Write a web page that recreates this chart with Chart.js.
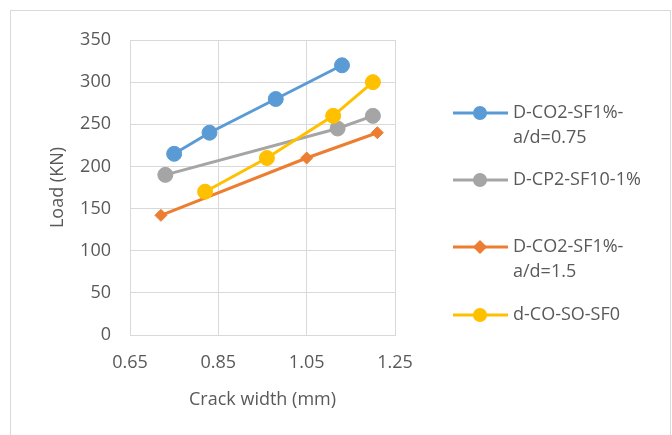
<!DOCTYPE html>
<html>
<head>
<meta charset="utf-8">
<script src="https://cdn.jsdelivr.net/npm/chart.js@4/dist/chart.umd.min.js"></script>
<style>
  html, body { margin: 0; padding: 0; background: #fff; }
  #wrap { width: 672px; height: 435px; position: relative; }
</style>
</head>
<body>
<div id="wrap"><canvas id="crackChart" width="672" height="435"></canvas></div>
<script>
// Series data
const seriesNames = ['D-CO2-SF1%-a/d=0.75', 'D-CP2-SF10-1%', 'D-CO2-SF1%-a/d=1.5', 'd-CO-SO-SF0'];
const legendLines = [['D-CO2-SF1%-', 'a/d=0.75'], ['D-CP2-SF10-1%'], ['D-CO2-SF1%-', 'a/d=1.5'], ['d-CO-SO-SF0']];

const blueX = [0.75, 0.83, 0.98, 1.13];
const blueY = [215, 240, 280, 320];
const greyX = [0.73, 1.12, 1.20];
const greyY = [190, 245, 260];
const orangeX = [0.72, 1.05, 1.21];
const orangeY = [142, 210, 240];
const yellowX = [0.82, 0.96, 1.11, 1.20];
const yellowY = [170, 210, 260, 300];

const xTicks = [0.65, 0.85, 1.05, 1.25];
const yTicks = [0, 50, 100, 150, 200, 250, 300, 350];

const FONT = '"Open Sans", "Noto Sans", sans-serif';
const TEXT = '#595959';
const GRID = '#d9d9d9';

function pts(xs, ys) {
    return xs.map((x, i) => ({ x: x, y: ys[i] }));
}

function makeSet(name, xs, ys, color, shape, radius, order) {
    return {
        label: name,
        data: pts(xs, ys),
        showLine: true,
        borderColor: color,
        backgroundColor: color,
        borderWidth: 3,
        pointStyle: shape,
        pointRadius: radius,
        pointBorderWidth: 1,
        pointBorderColor: color,
        pointBackgroundColor: color,
        order: order
    };
}

// Legend drawn by hand so labels can wrap like the original
const legendRows = [113, 180, 247, 315];
const sideLegend = {
    id: 'sideLegend',
    beforeDraw(chart) {
        const ctx = chart.ctx;
        ctx.save();
        ctx.strokeStyle = GRID;
        ctx.lineWidth = 1;
        ctx.strokeRect(10.5, 10.5, 660, 440);
        ctx.restore();
    },
    afterDraw(chart) {
        const ctx = chart.ctx;
        ctx.save();
        chart.data.datasets.forEach((ds, i) => {
            const y = legendRows[i];
            ctx.strokeStyle = ds.borderColor;
            ctx.lineWidth = 3;
            ctx.beginPath();
            ctx.moveTo(453, y);
            ctx.lineTo(508, y);
            ctx.stroke();
            ctx.fillStyle = ds.borderColor;
            Chart.helpers.drawPoint(ctx, {
                pointStyle: ds.pointStyle,
                radius: ds.pointStyle === 'circle' ? 5.5 : 5,
                borderWidth: 1,
                rotation: 0
            }, 480, y);
            ctx.fill();
            ctx.fillStyle = TEXT;
            ctx.font = '18px ' + FONT;
            ctx.textBaseline = 'middle';
            ctx.textAlign = 'left';
            legendLines[i].forEach((line, k) => {
                ctx.fillText(line, 513, y + k * 25);
            });
        });
        ctx.restore();
    }
};

const ctx = document.getElementById('crackChart').getContext('2d');
const crackChart = new Chart(ctx, {
    type: 'scatter',
    data: {
        datasets: [
            makeSet(seriesNames[0], blueX, blueY, '#5b9bd5', 'circle', 7.5, 3),
            makeSet(seriesNames[1], greyX, greyY, '#a5a5a5', 'circle', 7.5, 2),
            makeSet(seriesNames[2], orangeX, orangeY, '#ed7d31', 'rectRot', 6, 1),
            makeSet(seriesNames[3], yellowX, yellowY, '#ffc000', 'circle', 7.5, 0)
        ]
    },
    options: {
        responsive: false,
        animation: false,
        layout: {
            padding: { left: 38, right: 277, top: 40, bottom: 22 }
        },
        plugins: {
            legend: { display: false },
            tooltip: { enabled: false }
        },
        scales: {
            x: {
                type: 'linear',
                min: 0.65,
                max: 1.25,
                afterBuildTicks: function(scale) {
                    scale.ticks = xTicks.map(v => ({ value: v }));
                },
                afterFit: function(scale) {
                    scale.height = 78;
                },
                grid: { color: GRID, drawTicks: false },
                border: { color: GRID },
                ticks: {
                    color: TEXT,
                    padding: 17,
                    font: { family: FONT, size: 18 },
                    maxRotation: 0,
                    callback: function(value) {
                        return value.toFixed(2);
                    }
                },
                title: {
                    display: true,
                    text: 'Crack width (mm)',
                    color: TEXT,
                    font: { family: FONT, size: 18 },
                    padding: { top: 0, bottom: 2 }
                }
            },
            y: {
                type: 'linear',
                min: 0,
                max: 350,
                afterBuildTicks: function(scale) {
                    scale.ticks = yTicks.map(v => ({ value: v }));
                },
                afterFit: function(scale) {
                    scale.width = 92;
                },
                grid: { color: GRID, drawTicks: false },
                border: { color: GRID },
                ticks: {
                    color: TEXT,
                    padding: 19,
                    font: { family: FONT, size: 18 }
                },
                title: {
                    display: true,
                    text: 'Load (KN)',
                    color: TEXT,
                    font: { family: FONT, size: 18 },
                    padding: { top: 9, bottom: 0 }
                }
            }
        }
    },
    plugins: [sideLegend]
});
</script>
</body>
</html>
